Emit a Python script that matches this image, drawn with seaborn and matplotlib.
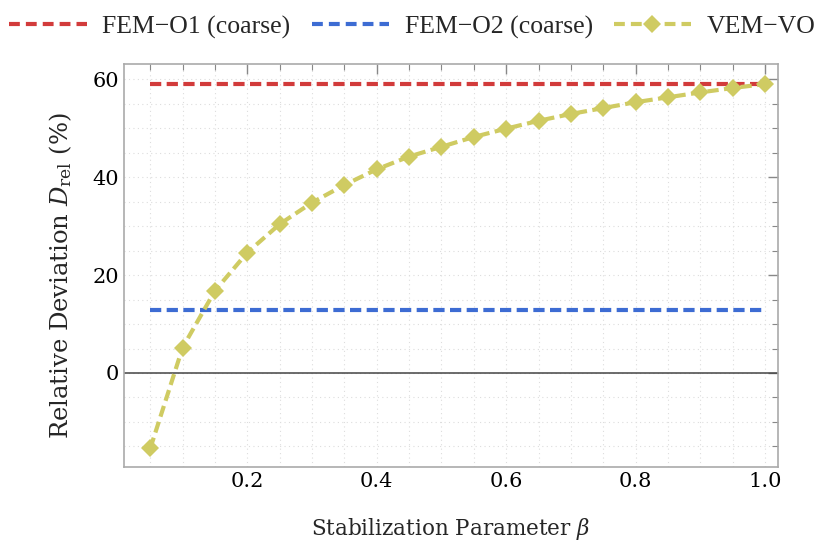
import matplotlib
matplotlib.use("Agg")
import matplotlib.pyplot as plt
import seaborn as sns
import pandas as pd
from matplotlib.ticker import MultipleLocator
from matplotlib.lines import Line2D

beta = [0.05, 0.10, 0.15, 0.20, 0.25, 0.30, 0.35, 0.40, 0.45, 0.50,
        0.55, 0.60, 0.65, 0.70, 0.75, 0.80, 0.85, 0.90, 0.95, 1.00]
vem_vo = [-15.4, 5.2, 16.8, 24.6, 30.4, 34.8, 38.4, 41.6, 44.2, 46.2,
          48.2, 49.9, 51.5, 52.9, 54.1, 55.3, 56.3, 57.3, 58.2, 59.0]
fem_o1 = 59.0
fem_o2 = 12.9
series_names = ["FEM\u2212O1 (coarse)", "FEM\u2212O2 (coarse)", "VEM\u2212VO"]
colors = ["#D23B3B", "#3D6CD3", "#CFCB62"]
xticks = [0.2, 0.4, 0.6, 0.8, 1.0]
yticks = [0, 20, 40, 60]

sns.set_theme(style="white")
plt.rcParams['font.family'] = ['DejaVu Serif']
plt.rcParams['mathtext.fontset'] = 'dejavuserif'

df_o1 = pd.DataFrame({"beta": beta, "value": [fem_o1] * len(beta)})
df_o2 = pd.DataFrame({"beta": beta, "value": [fem_o2] * len(beta)})
df_vem = pd.DataFrame({"beta": beta, "value": vem_vo})

fig = plt.figure(figsize=(8.3, 5.48), dpi=100)
ax = fig.add_axes([0.1494, 0.1478, 0.7879, 0.7354])

ax.axhline(0, color="#444444", lw=1.1, zorder=1)

dash = (2.7, 1.3)
lw = 3.0
sns.lineplot(data=df_o1, x="beta", y="value", color=colors[0], lw=lw, ax=ax, zorder=3)
sns.lineplot(data=df_o2, x="beta", y="value", color=colors[1], lw=lw, ax=ax, zorder=3)
sns.lineplot(data=df_vem, x="beta", y="value", color=colors[2], lw=lw, ax=ax, zorder=4,
             marker="D", markersize=9.5, markeredgewidth=0)
for ln in ax.lines[1:]:
    ln.set_dashes(dash)

ax.set_xlim(0.0094, 1.02)
ax.set_ylim(-19.2, 63.1)
ax.xaxis.set_major_locator(MultipleLocator(0.2))
ax.xaxis.set_minor_locator(MultipleLocator(0.05))
ax.yaxis.set_major_locator(MultipleLocator(20))
ax.yaxis.set_minor_locator(MultipleLocator(5))
ax.set_xticks(xticks)
ax.set_xticklabels([f"{t:.1f}" for t in xticks])
ax.set_yticks(yticks)
ax.set_yticklabels([str(t) for t in yticks])

ax.grid(which="both", color="#DDDDDD", linestyle=(0, (1, 3)), linewidth=0.8, zorder=0)
ax.tick_params(which="both", direction="in", top=True, right=True, colors="#888888",
               labelcolor="black", labelsize=15)
ax.tick_params(which="major", length=7, width=1)
ax.tick_params(which="minor", length=4, width=0.8)
for s in ax.spines.values():
    s.set_color("#AAAAAA")
    s.set_linewidth(1.2)

ax.set_xlabel(r"Stabilization Parameter $\beta$", fontsize=15.5, labelpad=18)
ax.set_ylabel(r"Relative Deviation $D_{\mathrm{rel}}$ (%)", fontsize=17.5)
ax.yaxis.set_label_coords(-0.076, 0.475)

handles = [
    Line2D([], [], color=colors[0], lw=lw, dashes=(2.6, 1.45)),
    Line2D([], [], color=colors[1], lw=lw, dashes=(2.6, 1.45)),
    Line2D([], [], color=colors[2], lw=lw, dashes=(2.6, 1.45), marker="D", markersize=9.5, markeredgewidth=0),
]
fig.legend(handles, series_names, loc="center", bbox_to_anchor=(0.497, 0.951), ncol=3,
           frameon=False, prop={"family": "Liberation Serif", "size": 18.5},
           handlelength=3.0, columnspacing=0.82, handletextpad=0.62)

fig.savefig("out.png", dpi=100)
